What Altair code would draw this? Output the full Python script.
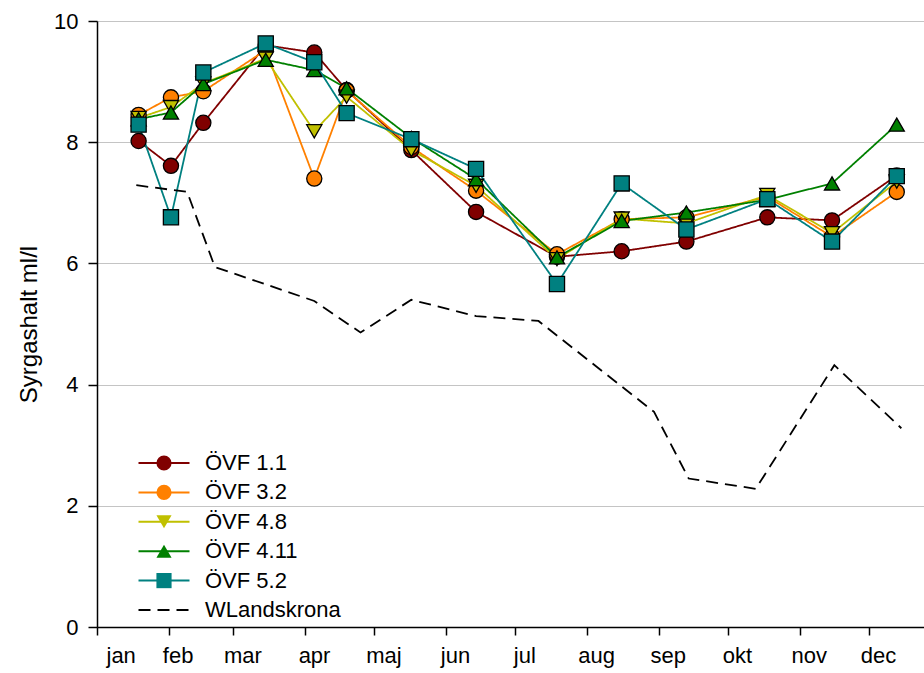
import altair as alt
import pandas as pd

# Month labels (Swedish) and series definitions
months = ["jan", "feb", "mar", "apr", "maj", "jun", "jul", "aug", "sep", "okt", "nov", "dec"]
stations = ["ÖVF 1.1", "ÖVF 3.2", "ÖVF 4.8", "ÖVF 4.11", "ÖVF 5.2"]
ref_name = "WLandskrona"
station_colors = ["#800000", "#FF8000", "#C0C000", "#008000", "#008080"]
station_shapes = ["circle", "circle", "triangle-down", "triangle-up", "square"]

# Sampling dates shared by the ÖVF stations
sample_dates = [
    "2001-01-19", "2001-02-02", "2001-02-16", "2001-03-15", "2001-04-05",
    "2001-04-19", "2001-05-17", "2001-06-14", "2001-07-19", "2001-08-16",
    "2001-09-13", "2001-10-18", "2001-11-15", "2001-12-13",
]

# Oxygen content, ml/l
ovf_1_1 = [8.02, 7.61, 8.32, 9.60, 9.48, 8.86, 7.87, 6.85, 6.11, 6.20, 6.36, 6.76, 6.71, 7.45]
ovf_3_2 = [8.45, 8.74, 8.84, 9.52, 7.40, 8.85, 7.92, 7.20, 6.15, 6.73, 6.76, 7.10, 6.44, 7.18]
ovf_4_8 = [8.40, 8.58, 8.97, 9.38, 8.18, 8.75, 7.87, 7.28, 6.07, 6.74, 6.66, 7.13, 6.50, 7.35]
ovf_4_11 = [8.38, 8.49, 8.96, 9.36, 9.19, 8.89, 8.07, 7.39, 6.10, 6.70, 6.84, 7.05, 7.32, 8.29]
ovf_5_2 = [8.29, 6.76, 9.15, 9.63, 9.32, 8.48, 8.05, 7.56, 5.66, 7.32, 6.56, 7.06, 6.36, 7.44]

# Reference station W Landskrona
wl_dates = [
    "2001-01-18", "2001-02-09", "2001-02-21", "2001-04-05", "2001-04-25",
    "2001-05-17", "2001-06-14", "2001-07-11", "2001-08-30", "2001-09-14",
    "2001-10-13", "2001-11-16", "2001-12-15",
]
wl_values = [7.29, 7.18, 5.94, 5.38, 4.86, 5.40, 5.13, 5.05, 3.55, 2.45, 2.28, 4.32, 3.28]

series_values = [ovf_1_1, ovf_3_2, ovf_4_8, ovf_4_11, ovf_5_2]

rows = []
for name, vals in zip(stations, series_values):
    for d, v in zip(sample_dates, vals):
        rows.append({"datum": d, "halt": v, "serie": name, "markor": name})
for d, v in zip(wl_dates, wl_values):
    rows.append({"datum": d, "halt": v, "serie": ref_name, "markor": None})
df = pd.DataFrame(rows)

FONT = "Liberation Sans"
all_names = stations + [ref_name]

x_enc = alt.X(
    "datum:T",
    scale=alt.Scale(
        type="utc",
        domain=[
            alt.DateTime(year=2001, month=1, date=1, utc=True),
            alt.DateTime(year=2001, month=12, date=24, hours=19, utc=True),
        ],
    ),
    axis=alt.Axis(
        title=None,
        values=[alt.DateTime(year=2001, month=m, date=1, utc=True) for m in range(1, 13)],
        labelExpr="['" + "','".join(months) + "'][utcmonth(datum.value)]",
        grid=False,
        tickSize=8,
        labelOffset=9,
        labelPadding=10,
        labelFontSize=22,
        labelFont=FONT,
        labelColor="black",
        domainColor="black",
        tickColor="black",
        domainWidth=1.5,
        tickWidth=1.5,
    ),
)

y_enc = alt.Y(
    "halt:Q",
    scale=alt.Scale(domain=[0, 10], nice=False, zero=True),
    axis=alt.Axis(
        title="Syrgashalt ml/l",
        values=[0, 2, 4, 6, 8, 10],
        grid=True,
        gridColor="#c4c4c4",
        gridWidth=1.2,
        tickSize=9,
        labelPadding=10,
        labelFontSize=22,
        labelFont=FONT,
        labelColor="black",
        titleFont=FONT,
        titleFontSize=24,
        titleFontWeight="normal",
        titleColor="black",
        titlePadding=12,
        domainColor="black",
        tickColor="black",
        domainWidth=1.5,
        tickWidth=1.5,
    ),
)

# Line legend (coloured / dashed segments) and marker legend share one spot,
# so each entry reads as a line with its marker on top.
line_legend = alt.Legend(
    title=None,
    orient="none",
    legendX=56,
    legendY=431,
    padding=0,
    symbolType="M-3,0H3",
    symbolSize=289,
    symbolStrokeWidth=2,
    labelFont=FONT,
    labelFontSize=22,
    labelColor="black",
    labelOffset=30,
    rowPadding=7.4,
    zindex=1,
)

marker_legend = alt.Legend(
    title=None,
    orient="none",
    legendX=56,
    legendY=431,
    padding=0,
    symbolSize=230,
    symbolStrokeColor="black",
    symbolStrokeWidth=1.3,
    symbolOpacity=1,
    labelFont=FONT,
    labelFontSize=22,
    labelOpacity=0,
    labelOffset=30,
    rowPadding=7.4,
    zindex=2,
)

lines = alt.Chart(df).mark_line(strokeWidth=1.8).encode(
    x=x_enc,
    y=y_enc,
    color=alt.Color(
        "serie:N",
        scale=alt.Scale(domain=all_names, range=station_colors + ["#000000"]),
        legend=line_legend,
    ),
    strokeDash=alt.StrokeDash(
        "serie:N",
        scale=alt.Scale(domain=all_names, range=[[1, 0]] * 5 + [[12, 7]]),
        legend=line_legend,
    ),
)

points = alt.Chart(df).transform_filter(
    alt.datum.markor != None
).mark_point(filled=True, stroke="black", strokeWidth=1.3, size=230, opacity=1).encode(
    x=x_enc,
    y=y_enc,
    fill=alt.Fill(
        "markor:N",
        scale=alt.Scale(domain=stations, range=station_colors),
        legend=marker_legend,
    ),
    shape=alt.Shape(
        "markor:N",
        scale=alt.Scale(domain=stations, range=station_shapes),
        legend=marker_legend,
    ),
)

chart = alt.layer(lines, points).properties(
    width=827,
    height=606,
    padding={"left": 97, "top": 21, "right": 0, "bottom": 46},
    autosize="none",
    background="white",
).configure_view(
    stroke="black",
    strokeWidth=1.5,
).configure(font=FONT)

chart.save("out.html", embed_options={"renderer": "svg", "actions": False})
